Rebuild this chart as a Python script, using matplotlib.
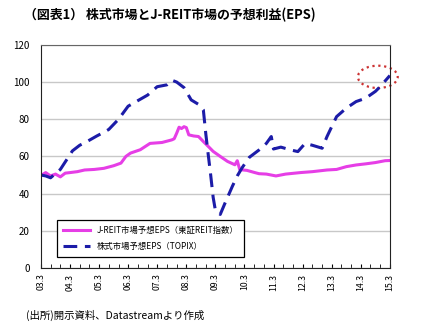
import matplotlib
matplotlib.use("Agg")
from matplotlib import pyplot as plt
import matplotlib.dates as mdates
from matplotlib.patches import Ellipse
import pandas as pd

plt.rcParams['font.family'] = ['Noto Sans CJK JP', 'DejaVu Sans']

# 株式市場予想EPS（TOPIX）
topix_dates = ['2003-03', '2003-05', '2003-07', '2003-11', '2004-04', '2004-07', '2004-10',
               '2005-02', '2005-05', '2005-07', '2005-11', '2006-03', '2006-07', '2006-11',
               '2007-03', '2007-07', '2007-09', '2007-11', '2008-02', '2008-05', '2008-08',
               '2008-10', '2008-11', '2008-12', '2009-01', '2009-02', '2009-03', '2009-05',
               '2009-07', '2009-10', '2009-12', '2010-02', '2010-05', '2010-09', '2010-12',
               '2011-02', '2011-03', '2011-06', '2011-10', '2012-01', '2012-04', '2012-07',
               '2012-11', '2013-01', '2013-03', '2013-05', '2013-09', '2014-01', '2014-05',
               '2014-09', '2014-11', '2015-03']
topix_eps = [50, 49.5, 48.5, 53, 63, 66, 68,
             71, 73, 74.5, 80, 87, 90, 93,
             97.5, 98.5, 101, 100, 97, 90.4, 88,
             85, 72, 61, 50, 38, 31, 28.8,
             35, 44, 49.5, 54, 59.5, 63.5, 67,
             70.7, 64, 65, 63.5, 62.6, 67, 66,
             64.4, 70.7, 76, 81.4, 86, 89.5, 91.3,
             95, 97.6, 103.5]

# J-REIT市場予想EPS（東証REIT指数）
reit_dates = ['2003-03', '2003-04', '2003-05', '2003-07', '2003-09', '2003-11', '2004-01',
              '2004-03', '2004-06', '2004-09', '2005-01', '2005-05', '2005-09', '2005-12',
              '2006-02', '2006-04', '2006-08', '2006-12', '2007-05', '2007-09', '2007-10',
              '2007-11', '2007-12', '2008-01', '2008-02', '2008-03', '2008-04', '2008-06',
              '2008-08', '2008-10', '2008-12', '2009-02', '2009-05', '2009-08', '2009-11',
              '2009-12', '2010-01', '2010-04', '2010-07', '2010-09', '2010-12', '2011-04',
              '2011-08', '2012-02', '2012-07', '2013-01', '2013-05', '2013-09', '2014-01',
              '2014-05', '2014-09', '2015-01', '2015-03']
reit_eps = [50, 50.5, 51.3, 49.5, 50.5, 49, 51,
            51.3, 51.8, 52.7, 53, 53.6, 55, 56.4,
            60, 61.8, 63.6, 67, 67.5, 68.9, 69.5,
            72.5, 75.7, 75, 76, 75.5, 71.6, 71,
            70.7, 68, 65.4, 62.7, 60, 57.3, 55.5,
            57.7, 52.9, 52.5, 51.4, 50.7, 50.5, 49.5,
            50.5, 51.3, 51.8, 52.7, 53, 54.5, 55.4,
            56, 56.7, 57.7, 57.8]

y_ticks = [0, 20, 40, 60, 80, 100, 120]

fig = plt.figure(figsize=(4.21, 3.30), dpi=100)
ax = fig.add_axes([0.097, 0.188, 0.829, 0.676])

ax.plot(pd.to_datetime(reit_dates), reit_eps, color='#e63ee6', lw=2.2,
        label='J-REIT市場予想EPS（東証REIT指数）')
ax.plot(pd.to_datetime(topix_dates), topix_eps, color='#1c1ca8', lw=2.2,
        dashes=(4.5, 2.5), label='株式市場予想EPS（TOPIX）')

ax.set_xlim(pd.Timestamp('2003-03-01'), pd.Timestamp('2015-03-01'))
ax.set_ylim(0, 120)
ax.set_yticks(y_ticks)
ax.grid(axis='y', color='#c8c8c8', lw=1)
ax.set_axisbelow(True)

ax.xaxis.set_major_locator(mdates.MonthLocator(bymonth=3))
ax.xaxis.set_major_formatter(mdates.DateFormatter('%y.3'))
ax.xaxis.set_minor_locator(mdates.MonthLocator(bymonth=[3, 7, 11]))
ax.tick_params(axis='x', which='both', direction='in', length=3, labelsize=6.3,
               labelrotation=90, pad=4)
ax.tick_params(axis='y', length=0, labelsize=7, pad=8)

for s in ax.spines.values():
    s.set_color('#222222')
ax.spines['top'].set_color('#666666')

# 赤い点線の楕円
center = mdates.date2num(pd.Timestamp('2014-10-01'))
ax.add_patch(Ellipse((center, 102.8), 500, 12, fill=False, ec='#cc3333',
                     ls=':', lw=1.6, clip_on=False))

leg = ax.legend(loc='lower left', bbox_to_anchor=(0.035, 0.03), fontsize=6,
                fancybox=False, edgecolor='black', framealpha=1,
                borderpad=0.7, handlelength=3.2, labelspacing=0.9)
leg.get_frame().set_linewidth(0.9)

fig.text(0.058, 0.955, '（図表1） 株式市場とJ-REIT市場の予想利益(EPS)',
         fontsize=9.3, fontweight='bold', va='center')
fig.text(0.062, 0.045, '(出所)開示資料、Datastreamより作成', fontsize=7.5, va='center')

fig.savefig('out.png', dpi=100)
